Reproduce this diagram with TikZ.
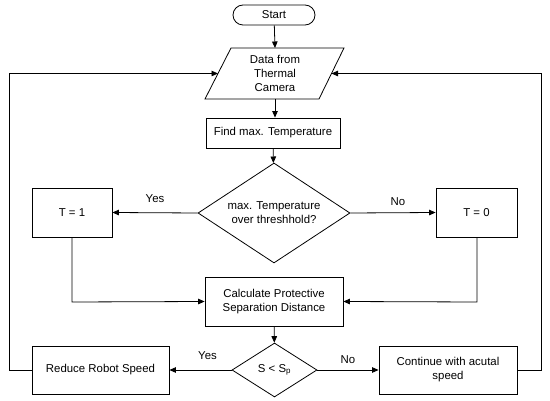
\documentclass[tikz,border=0pt]{standalone}
\usepackage{fontspec}
\setmainfont{Liberation Sans}
\usetikzlibrary{shapes.geometric,shapes.misc,arrows.meta}
\begin{document}
\begin{tikzpicture}[x=1pt,y=-1pt,
  font=\fontsize{11.4}{14}\selectfont,
  line width=0.8pt,
  procbox/.style={draw, rectangle, align=center, inner sep=0pt},
  decision/.style={draw, diamond, align=center, inner sep=0pt},
  term/.style={draw, rounded rectangle, align=center, inner sep=0pt},
  flow/.style={-{Triangle[length=6.5pt,width=5.5pt]}},
  lbl/.style={inner sep=1pt}]
\useasboundingbox (0,0) rectangle (550,401);
% Start
\node[term, minimum width=82pt, minimum height=20pt] (start) at (274,15) {Start};
% Data parallelogram
\coordinate (dTL) at (231,48);
\coordinate (dTR) at (344,48);
\coordinate (dBR) at (319,99);
\coordinate (dBL) at (205,99);
\draw (dTL) -- (dTR) -- (dBR) -- (dBL) -- cycle;
\node[align=center] (data) at (275,73.5) {Data from\\Thermal\\Camera};
\coordinate (dataT) at (275,48);
\coordinate (dataB) at (275,99);
\coordinate (dataL) at (218,73.5);
\coordinate (dataR) at (331.5,73.5);
% Find max
\node[procbox, minimum width=134pt, minimum height=30pt] (find) at (273,133) {Find max. Temperature};
% Decision 1
\node[decision, aspect=1.52, minimum width=152pt, minimum height=100pt] (dec1) at (274,213) {max. Temperature\\over threshhold?};
% T boxes
\node[procbox, minimum width=80pt, minimum height=49pt] (t1) at (72,212.5) {T = 1};
\node[procbox, minimum width=81pt, minimum height=49pt] (t0) at (476.5,212.5) {T = 0};
% Calculate
\node[procbox, minimum width=138pt, minimum height=49pt] (calc) at (274,301.5) {Calculate Protective\\Separation Distance};
% Decision 2
\node[decision, aspect=1.57, minimum width=85pt, minimum height=54pt] (dec2) at (274.5,370) {S < S\textsubscript{p}};
% Bottom boxes
\node[procbox, minimum width=137pt, minimum height=48pt] (reduce) at (100.5,370) {Reduce Robot Speed};
\node[procbox, minimum width=138pt, minimum height=48pt] (cont) at (448,370) {Continue with acutal\\speed};
% Loop corners
\coordinate (lb) at (9,370);
\coordinate (lt) at (9,73.5);
\coordinate (rb) at (541,370);
\coordinate (rt) at (541,73.5);
\coordinate (t1c) at (72,302);
\coordinate (t0c) at (477,302);
% Connectors
\draw[flow] (start) -- (dataT);
\draw[flow] (dataB) -- (find.north -| dataB);
\draw[flow] (find) -- (dec1);
\draw[flow] (dec1.west) -- node[lbl, above, pos=0.5, yshift=9pt] {Yes} (t1.east);
\draw[flow] (dec1.east) -- node[lbl, above, pos=0.5, xshift=5pt, yshift=6pt] {No} (t0.west);
\draw[flow] (t1.south) -- (t1c) -- (calc.west);
\draw[flow] (t0.south -| t0c) -- (t0c) -- (calc.east);
\draw[flow] (calc) -- (dec2);
\draw[flow] (dec2.west) -- node[lbl, above, xshift=7pt, yshift=9pt] {Yes} (reduce.east);
\draw[flow] (dec2.east) -- node[lbl, above, yshift=5pt] {No} (cont.west);
\draw[flow] (reduce.west) -- (lb) -- (lt) -- (dataL);
\draw[flow] (cont.east) -- (rb) -- (rt) -- (dataR);
\end{tikzpicture}
\end{document}
